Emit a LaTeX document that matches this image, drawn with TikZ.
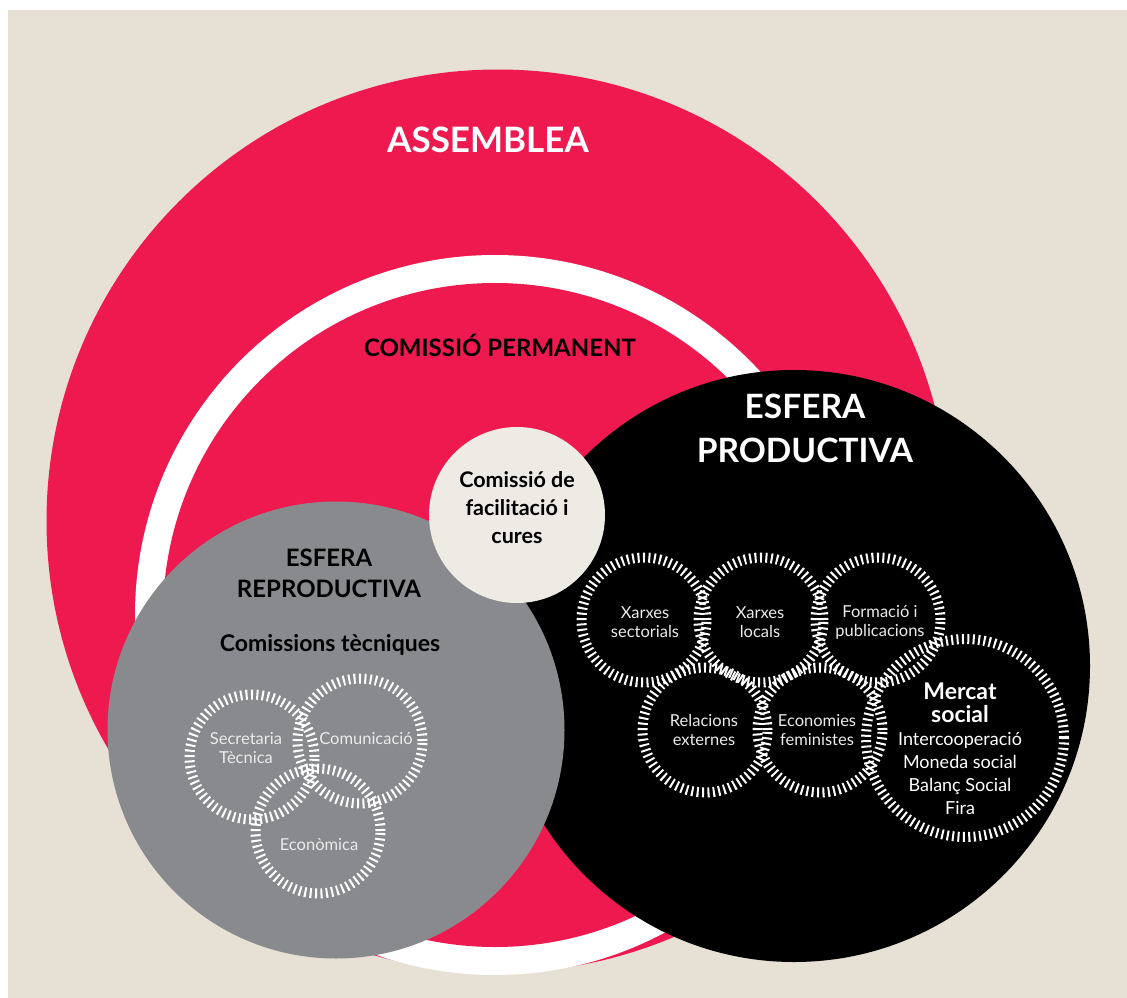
\documentclass[tikz,border=0pt]{standalone}
\usepackage{fontspec}
\setmainfont{Lato}
\definecolor{beige}{HTML}{E6E0D5}
\definecolor{rosa}{HTML}{EE1A4F}
\definecolor{gris}{HTML}{898A8E}
\definecolor{crema}{HTML}{EEEBE5}
\begin{document}
\begin{tikzpicture}[x=1pt,y=-1pt]
	\tikzset{disc/.style = {shape=circle, inner sep=0pt, outer sep=0pt},
		ring/.style = {shape=circle, inner sep=0pt, draw=white, line width=10pt, dash pattern=on 2pt off 3.4pt, minimum size=125pt},
		tag/.style = {align=center, text=white!92!black, font=\fontsize{16.5}{19}\selectfont},
		titol/.style = {align=center, font=\bfseries}}

	\useasboundingbox (0,0) rectangle (1127,998);
	\fill[beige] (8,10) rectangle (1127,998);

	\node[disc, fill=rosa, minimum size=903pt] (assemblea) at (498,521) {};
	\node[disc, fill=white, minimum size=720pt] (vora) at (495,615) {};
	\node[disc, fill=rosa, minimum size=664pt] (permanent) at (495,615) {};
	\node[disc, fill=black, minimum size=592pt] (productiva) at (794,666) {};
	\node[disc, fill=gris, minimum size=457pt] (reproductiva) at (336,730) {};
	\node[disc, fill=crema, minimum size=176pt] (cures) at (517,515) {};

	% comissions tecniques
	\node[ring] (secretaria) at (252,757) {};
	\node[ring] (comunicacio) at (360,741) {};
	\node[ring] (economica) at (318,831) {};

	% esfera productiva
	\node[ring] (sectorials) at (644,620) {};
	\node[ring] (locals) at (761,620) {};
	\node[ring] (formacio) at (878,620) {};
	\node[ring] (relacions) at (705,730) {};
	\node[ring] (feministes) at (820,730) {};
	\node[ring, minimum size=198pt] (mercat) at (965,738) {};

	\node[titol, text=white, font=\bfseries\fontsize{35}{40}\selectfont] (t_assemblea) at (488,140) {ASSEMBLEA};
	\node[titol, font=\bfseries\fontsize{24}{28}\selectfont] (t_permanent) at (500,345) {COMISSIÓ PERMANENT};
	\node[titol, text=white, font=\bfseries\fontsize{33.5}{44}\selectfont] (t_productiva) at (805,428) {ESFERA\\PRODUCTIVA};
	\node[titol, font=\bfseries\fontsize{24}{31}\selectfont] (t_reproductiva) at (329,573) {ESFERA\\REPRODUCTIVA};
	\node[titol, font=\bfseries\fontsize{23}{25}\selectfont] (t_tecniques) at (330,645) {Comissions tècniques};
	\node[titol, font=\bfseries\fontsize{21.5}{28}\selectfont] (t_cures) at (517,508) {Comissió de\\facilitació i\\cures};

	\node[tag] (t_secretaria) at (246,748) {Secretaria\\Tècnica};
	\node[tag] (t_comunicacio) at (366,739) {Comunicació};
	\node[tag] (t_economica) at (319,845) {Econòmica};

	\node[tag] (t_sectorials) at (645,622) {Xarxes\\sectorials};
	\node[tag] (t_locals) at (760,622) {Xarxes\\locals};
	\node[tag] (t_formacio) at (880,622) {Formació i\\publicacions};
	\node[tag] (t_relacions) at (704,730) {Relacions\\externes};
	\node[tag] (t_feministes) at (817,730) {Economies\\feministes};

	\node[titol, text=white, font=\bfseries\fontsize{23}{23}\selectfont] (t_mercat) at (960,703) {Mercat\\social};
	\node[tag, text=white, font=\fontsize{18}{23}\selectfont] (t_eines) at (960,773) {Intercooperació\\Moneda social\\Balanç Social\\Fira};

\end{tikzpicture}
\end{document}
